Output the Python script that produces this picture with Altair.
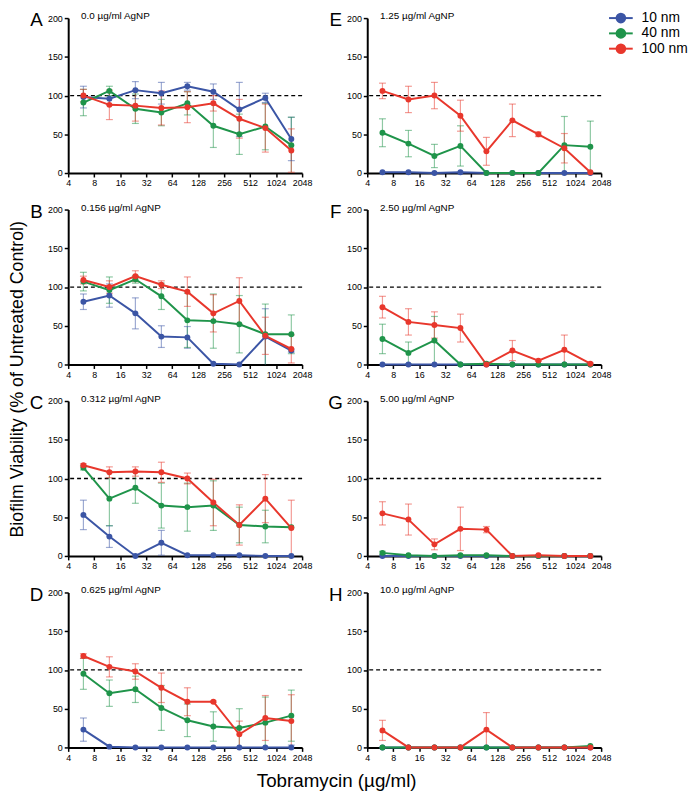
import altair as alt
import pandas as pd

# ---------------- data ----------------
X = [6, 12, 24, 48, 96, 192, 384, 768, 1536]
SERIES = ["10 nm", "40 nm", "100 nm"]
COLORS = ["#3b55a5", "#1f944a", "#e8372c"]
X_TICKS = [4, 8, 16, 32, 64, 128, 256, 512, 1024, 2048]
Y_TICKS = [0, 50, 100, 150, 200]

LETTERS = ["A", "E", "B", "F", "C", "G", "D", "H"]
TITLES = ["0.0 µg/ml AgNP", "1.25 µg/ml AgNP", "0.156 µg/ml AgNP", "2.50 µg/ml AgNP",
          "0.312 µg/ml AgNP", "5.00 µg/ml AgNP", "0.625 µg/ml AgNP", "10.0 µg/ml AgNP"]

Z = [0, 0, 0, 0, 0, 0, 0, 0, 0]

A_10 = [98, 96, 107, 103, 112, 105, 82, 97, 44]
A_10e = [14, 8, 11, 14, 5, 10, 35, 6, 28]
A_40 = [91, 106, 83, 78, 90, 61, 50, 60, 36]
A_40e = [17, 6, 19, 17, 15, 28, 26, 30, 36]
A_100 = [100, 88, 87, 84, 85, 90, 70, 58, 29]
A_100e = [8, 19, 20, 22, 20, 10, 25, 31, 28]

E_10 = [1, 1, 0, 1, 0, 0, 0, 0, 0]
E_10e = Z
E_40 = [52, 38, 22, 35, 0, 0, 0, 36, 34]
E_40e = [18, 17, 15, 26, 0, 0, 0, 37, 33]
E_100 = [106, 95, 100, 74, 28, 68, 50, 32, 1]
E_100e = [10, 17, 17, 20, 18, 21, 3, 19, 0]

B_10 = [81, 89, 66, 36, 35, 1, 0, 36, 18]
B_10e = [10, 15, 20, 14, 14, 0, 0, 36, 2]
B_40 = [107, 96, 110, 88, 57, 56, 52, 39, 39]
B_40e = [12, 17, 5, 17, 35, 35, 37, 39, 25]
B_100 = [109, 100, 114, 103, 94, 66, 82, 37, 20]
B_100e = [5, 8, 7, 5, 19, 24, 30, 24, 18]

F_10 = Z
F_10e = Z
F_40 = [33, 15, 31, 0, 1, 0, 0, 0, 0]
F_40e = [19, 14, 31, 0, 2, 0, 0, 0, 0]
F_100 = [74, 55, 51, 47, 0, 18, 5, 19, 1]
F_100e = [14, 17, 17, 18, 2, 13, 1, 19, 1]

C_10 = [53, 25, 0, 17, 1, 1, 1, 0, 0]
C_10e = [19, 14, 0, 16, 0, 0, 0, 0, 0]
C_40 = [114, 74, 88, 65, 63, 65, 40, 38, 37]
C_40e = [3, 35, 20, 29, 31, 32, 23, 21, 0]
C_100 = [117, 108, 109, 108, 100, 69, 40, 74, 36]
C_100e = [2, 7, 6, 13, 7, 30, 26, 31, 36]

G_10 = Z
G_10e = Z
G_40 = [4, 1, 0, 1, 1, 0, 0, 0, 0]
G_40e = [2, 0, 0, 0, 0, 0, 0, 0, 0]
G_100 = [55, 47, 15, 35, 34, 0, 1, 0, 0]
G_100e = [15, 20, 7, 28, 4, 0, 0, 0, 0]

D_10 = [23, 1, 0, 0, 0, 0, 0, 0, 0]
D_10e = [15, 0, 0, 0, 0, 0, 0, 0, 3]
D_40 = [95, 70, 75, 51, 35, 27, 25, 32, 41]
D_40e = [20, 17, 17, 29, 21, 19, 25, 33, 33]
D_100 = [118, 104, 98, 77, 59, 59, 17, 38, 34]
D_100e = [3, 13, 10, 19, 18, 1, 17, 29, 34]

H_10 = Z
H_10e = Z
H_40 = [0, 0, 0, 0, 0, 0, 0, 0, 2]
H_40e = Z
H_100 = [22, 0, 0, 0, 23, 0, 0, 0, 0]
H_100e = [13, 0, 0, 0, 22, 0, 0, 0, 0]

VALUES = {"A": [A_10, A_40, A_100], "E": [E_10, E_40, E_100],
          "B": [B_10, B_40, B_100], "F": [F_10, F_40, F_100],
          "C": [C_10, C_40, C_100], "G": [G_10, G_40, G_100],
          "D": [D_10, D_40, D_100], "H": [H_10, H_40, H_100]}
ERRORS = {"A": [A_10e, A_40e, A_100e], "E": [E_10e, E_40e, E_100e],
          "B": [B_10e, B_40e, B_100e], "F": [F_10e, F_40e, F_100e],
          "C": [C_10e, C_40e, C_100e], "G": [G_10e, G_40e, G_100e],
          "D": [D_10e, D_40e, D_100e], "H": [H_10e, H_40e, H_100e]}

rows = []
for letter in LETTERS:
    for s, name in enumerate(SERIES):
        for i, xv in enumerate(X):
            v = VALUES[letter][s][i]
            e = ERRORS[letter][s][i]
            rows.append(dict(panel=letter, series=name, x=xv, y=v, err=e,
                             lo=max(0, v - e), hi=v + e))
df = pd.DataFrame(rows)

# ---------------- chart ----------------
FONT = "Liberation Sans"
W, H = 237, 157

xscale = alt.Scale(type="log", base=2, domain=[4, 2048], nice=False)
yscale = alt.Scale(domain=[0, 200], nice=False, zero=False)
xaxis = alt.Axis(values=X_TICKS, format="d", title=None, grid=False,
                 labelFlush=False, labelOverlap=False)
yaxis = alt.Axis(values=Y_TICKS, title=None, grid=False)
cscale = alt.Scale(domain=SERIES, range=COLORS)

def X_(f="x"):
    return alt.X(f"{f}:Q", scale=xscale, axis=xaxis)

def Y_(f="y"):
    return alt.Y(f"{f}:Q", scale=yscale, axis=yaxis)

def COL():
    return alt.Color("series:N", scale=cscale, legend=None)

def legend_layer():
    ld = alt.Chart(pd.DataFrame({"series": SERIES}))
    ly = alt.Y("series:N", axis=None,
               scale=alt.Scale(type="point", domain=SERIES, range=[0, 31], padding=0))
    seg = ld.mark_rule(strokeWidth=2).encode(
        x=alt.value(245), x2=alt.value(269), y=ly, color=COL())
    dot = ld.mark_point(filled=True, size=115, opacity=1).encode(
        x=alt.value(257), y=ly, color=COL())
    txt = ld.mark_text(align="left", baseline="middle", fontSize=14, color="black").encode(
        x=alt.value(278), y=ly, text="series:N")
    return alt.layer(seg, dot, txt)

def panel(idx):
    letter = LETTERS[idx]
    d = df[df.panel == letter]
    base = alt.Chart(d)
    ref = alt.Chart(pd.DataFrame({"r": [100]})).mark_rule(
        color="black", strokeDash=[4, 3], strokeWidth=1.3).encode(y=Y_("r"))
    ebar = base.transform_filter("datum.err > 0").mark_rule(
        strokeWidth=1.2, opacity=0.5).encode(x=X_(), y=Y_("lo"), y2="hi:Q", color=COL())
    caph = base.transform_filter("datum.err > 0").mark_tick(
        orient="horizontal", size=7, thickness=1.2, opacity=0.5).encode(
        x=X_(), y=Y_("hi"), color=COL())
    capl = base.transform_filter("datum.err > 0 && datum.lo > 0").mark_tick(
        orient="horizontal", size=7, thickness=1.2, opacity=0.5).encode(
        x=X_(), y=Y_("lo"), color=COL())
    lines = []
    for name in SERIES:
        lines.append(base.transform_filter(f"datum.series == '{name}'").mark_line(
            strokeWidth=2).encode(x=X_(), y=Y_(), color=COL()))
    pts = base.mark_point(filled=True, size=36, opacity=1).encode(
        x=X_(), y=Y_(), color=COL())
    title = alt.Chart(pd.DataFrame({"t": [TITLES[idx]]})).mark_text(
        align="left", baseline="alphabetic", fontSize=10, color="black").encode(
        x=alt.value(13), y=alt.value(1), text="t:N")
    let = alt.Chart(pd.DataFrame({"t": [letter]})).mark_text(
        align="center", baseline="alphabetic", fontSize=19, color="black").encode(
        x=alt.value(-32), y=alt.value(8.5), text="t:N")
    layers = [ref, ebar, caph, capl] + lines + [pts, title, let]
    if letter == "B":
        layers.append(alt.Chart(pd.DataFrame({"t": ["Biofilm Viability (% of Untreated Control)"]})).mark_text(
            angle=270, align="center", baseline="middle", fontSize=18, color="black").encode(
            x=alt.value(-51), y=alt.value(172), text="t:N"))
    if letter == "D":
        layers.append(alt.Chart(pd.DataFrame({"t": ["Tobramycin (µg/ml)"]})).mark_text(
            align="center", baseline="alphabetic", fontSize=19, color="black").encode(
            x=alt.value(272), y=alt.value(197), text="t:N"))
    main = alt.layer(*layers)
    if letter == "E":
        return alt.layer(main, legend_layer()).resolve_scale(y="independent").properties(
            width=W, height=H)
    return main.properties(width=W, height=H)

chart = alt.concat(*[panel(i) for i in range(8)], columns=2,
                   spacing={"row": 37, "column": 66}, bounds="flush").properties(
    padding={"left": 0, "top": -2, "right": 0, "bottom": 0}
).configure_view(stroke=None).configure_axis(
    domainColor="black", domainWidth=2, tickColor="black", tickWidth=1.5,
    tickSize=4, labelFontSize=9, labelFont=FONT, labelColor="black", labelPadding=2
).configure_text(font=FONT)

chart.save("out.html", embed_options={"renderer": "svg", "actions": False})
